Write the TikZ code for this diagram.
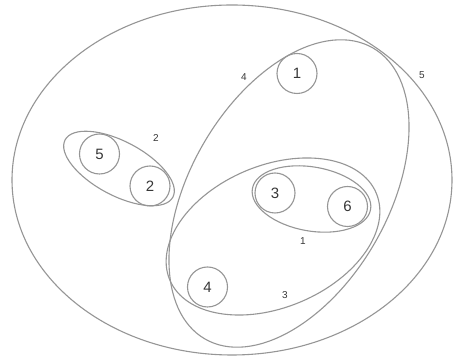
\documentclass[tikz,border=0pt]{standalone}
\usepackage{fontspec}
\setmainfont{Liberation Sans}
\usetikzlibrary{shapes.geometric}
\definecolor{linegray}{RGB}{150,150,150}
\definecolor{textgray}{RGB}{55,55,55}
\tikzset{
  setline/.style={draw=linegray, line width=1.1pt},
  setellipse/.style={setline, ellipse, inner sep=0pt},
  elem/.style={setline, circle, minimum size=40pt, inner sep=0pt, text=textgray, font=\fontsize{15}{15}\selectfont},
  setlabel/.style={text=textgray, font=\fontsize{10}{10}\selectfont, inner sep=0pt}
}
\begin{document}
\begin{tikzpicture}[x=1pt,y=1pt]
\useasboundingbox[fill=white] (0,0) rectangle (456,361);
% sets
\node[setellipse, minimum width=440pt, minimum height=350pt] (s5) at (232,181) {};
\node[setellipse, minimum width=336pt, minimum height=198pt, rotate=60] (s4) at (289,167.5) {};
\node[setellipse, minimum width=224pt, minimum height=142pt, rotate=22.8] (s3) at (273,124.5) {};
\node[setellipse, minimum width=120pt, minimum height=64pt, rotate=-10] (s1) at (311.5,162) {};
\node[setellipse, minimum width=122pt, minimum height=54pt, rotate=-28] (s2) at (119,192.5) {};
% elements
\node[elem] (e1) at (297,287.5) {1};
\node[elem] (e5) at (99.5,207) {5};
\node[elem] (e2) at (150,175) {2};
\node[elem] (e3) at (275,168) {3};
\node[elem] (e6) at (347.5,154.5) {6};
\node[elem] (e4) at (207.5,74) {4};
% set labels
\node[setlabel] (l5) at (422,286) {5};
\node[setlabel] (l4) at (244,284) {4};
\node[setlabel] (l2) at (156,223) {2};
\node[setlabel] (l1) at (303,120) {1};
\node[setlabel] (l3) at (285,66) {3};
\end{tikzpicture}
\end{document}
